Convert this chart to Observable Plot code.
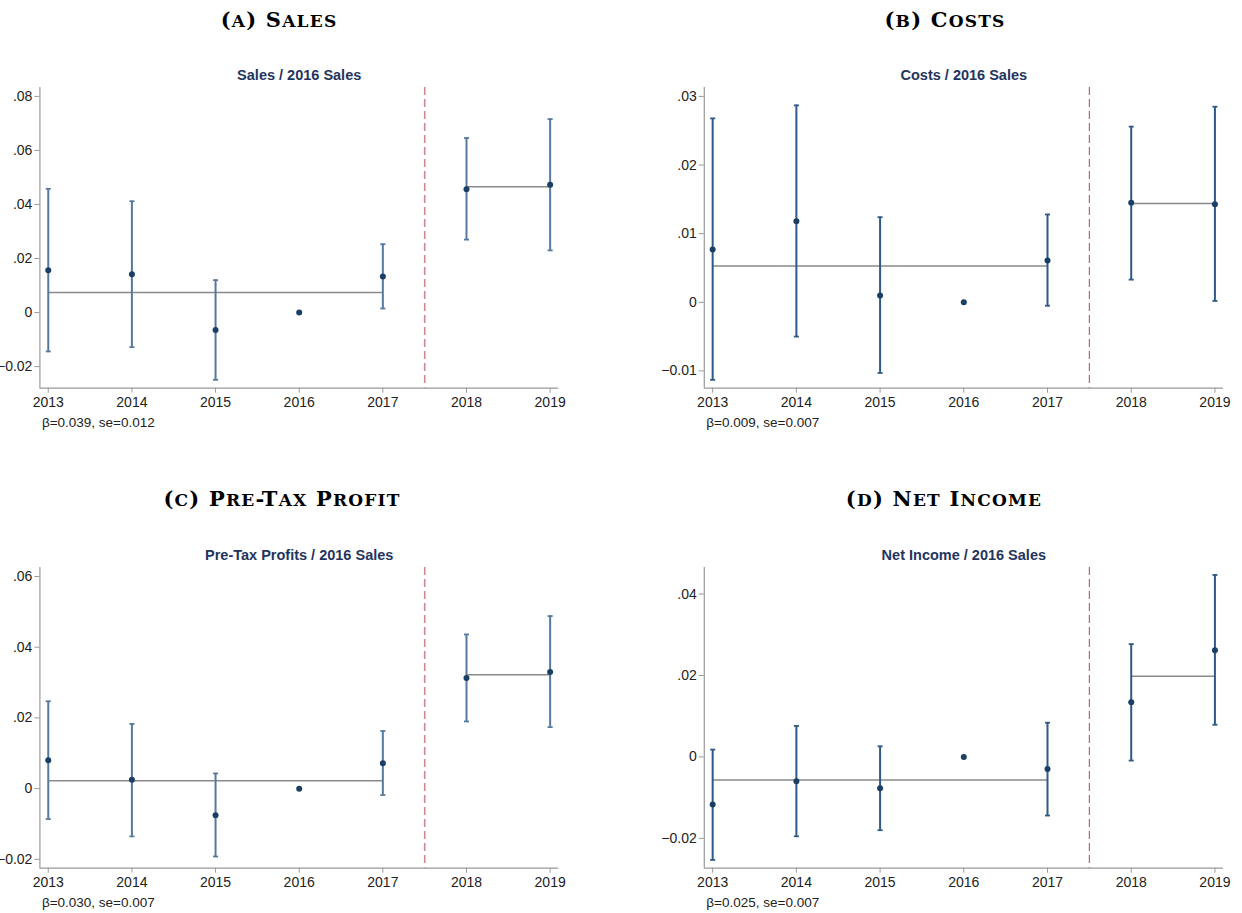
<!DOCTYPE html>
<html><head><meta charset="utf-8">
<script src="https://cdn.jsdelivr.net/npm/d3@7"></script>
<script src="https://cdn.jsdelivr.net/npm/@observablehq/plot@0.6"></script>
<style>
body{margin:0;background:#fff;}
#root{position:relative;width:1242px;height:913px;overflow:hidden;background:#fff;}
.ptitle{position:absolute;font-family:"DejaVu Serif","Liberation Serif",serif;font-weight:bold;font-size:21px;letter-spacing:1.2px;transform:translate(-50%,-50%);white-space:nowrap;color:#000;}
.ptitle .sc{font-size:17px;}
.panel{position:absolute;}
</style></head><body><div id="root"></div>
<script>
const years = [2013, 2014, 2015, 2016, 2017, 2018, 2019];
const preYears = [2013, 2017];
const postYears = [2018, 2019];
const eventYear = 2017.5;

// (A) Sales
const salesEst = [0.0157, 0.0142, -0.0065, 0, 0.0133, 0.0456, 0.0473];
const salesLo  = [-0.0144, -0.0128, -0.0249, null, 0.0015, 0.0270, 0.0230];
const salesHi  = [0.0458, 0.0412, 0.0120, null, 0.0253, 0.0646, 0.0716];
const salesMeans = [0.0074, 0.0466];
const salesTicks = [-0.02, 0, 0.02, 0.04, 0.06, 0.08];

// (B) Costs
const costsEst = [0.0077, 0.0118, 0.0010, 0, 0.0061, 0.0145, 0.0143];
const costsLo  = [-0.0113, -0.0050, -0.0103, null, -0.0005, 0.0033, 0.0002];
const costsHi  = [0.0268, 0.0287, 0.0124, null, 0.0128, 0.0256, 0.0285];
const costsMeans = [0.0053, 0.0144];
const costsTicks = [-0.01, 0, 0.01, 0.02, 0.03];

// (C) Pre-tax profit
const profitEst = [0.0080, 0.0025, -0.0075, 0, 0.0072, 0.0313, 0.0330];
const profitLo  = [-0.0086, -0.0135, -0.0192, null, -0.0018, 0.0190, 0.0174];
const profitHi  = [0.0247, 0.0183, 0.0043, null, 0.0163, 0.0436, 0.0488];
const profitMeans = [0.0022, 0.0322];
const profitTicks = [-0.02, 0, 0.02, 0.04, 0.06];

// (D) Net income
const netEst = [-0.0117, -0.0060, -0.0077, 0, -0.0030, 0.0134, 0.0262];
const netLo  = [-0.0253, -0.0195, -0.0180, null, -0.0144, -0.0009, 0.0079];
const netHi  = [0.0018, 0.0076, 0.0026, null, 0.0084, 0.0277, 0.0447];
const netMeans = [-0.0057, 0.0198];
const netTicks = [-0.02, 0, 0.02, 0.04];

const panelTitles = ["(a) Sales", "(b) Costs", "(c) Pre-Tax Profit", "(d) Net Income"];
const subTitles = ["Sales / 2016 Sales", "Costs / 2016 Sales", "Pre-Tax Profits / 2016 Sales", "Net Income / 2016 Sales"];
const notes = ["β=0.039, se=0.012", "β=0.009, se=0.007", "β=0.030, se=0.007", "β=0.025, se=0.007"];

const fmt = d => {
  if (d === 0) return "0";
  return d3.format(".2f")(d).replace(/^(-?)0\./, "$1.");
};

// small caps: capitals stay full-size, lowercase become smaller capitals
function smallCaps(el, s) {
  let buf = "", isLower = null;
  const flush = () => {
    if (!buf) return;
    if (isLower) {
      const sp = document.createElement("span");
      sp.className = "sc";
      sp.textContent = buf.toUpperCase();
      el.appendChild(sp);
    } else {
      el.appendChild(document.createTextNode(buf));
    }
    buf = "";
  };
  for (const ch of s) {
    const low = ch !== ch.toUpperCase();
    if (isLower !== null && low !== isLower) flush();
    isLower = low;
    buf += ch;
  }
  flush();
}

const panels = [
  {est: salesEst, lo: salesLo, hi: salesHi, means: salesMeans, ticks: salesTicks, yDomain: [-0.028, 0.0833],
   left: 0, top: 60, width: 620, mL: 39.4, mR: 62, titleX: 279, titleY: 19, bar: "#56799f", dash: "#c98a93", dashW: 1.6},
  {est: costsEst, lo: costsLo, hi: costsHi, means: costsMeans, ticks: costsTicks, yDomain: [-0.01252, 0.0313],
   left: 620, top: 60, width: 622, mL: 83.8, mR: 19.2, titleX: 945, titleY: 19, bar: "#2f5986", dash: "#c4505e", dashW: 1.1},
  {est: profitEst, lo: profitLo, hi: profitHi, means: profitMeans, ticks: profitTicks, yDomain: [-0.0225, 0.06254],
   left: 0, top: 540, width: 620, mL: 39.4, mR: 62, titleX: 282, titleY: 498, bar: "#56799f", dash: "#c98a93", dashW: 1.6},
  {est: netEst, lo: netLo, hi: netHi, means: netMeans, ticks: netTicks, yDomain: [-0.02734, 0.04653],
   left: 620, top: 540, width: 622, mL: 83.8, mR: 19.2, titleX: 944, titleY: 498, bar: "#2f5986", dash: "#c4505e", dashW: 1.1}
];

const root = document.getElementById("root");
const xDomain = [2012.9, 2019.1];
const capHalf = 0.03;

panels.forEach((p, i) => {
  const t = document.createElement("div");
  t.className = "ptitle";
  t.style.left = p.titleX + "px";
  t.style.top = p.titleY + "px";
  smallCaps(t, panelTitles[i]);
  root.appendChild(t);

  const rows = years.map((y, j) => ({year: y, est: p.est[j], lo: p.lo[j], hi: p.hi[j]}));
  const ci = rows.filter(d => d.lo != null);
  const meanSegs = [
    {x1: preYears[0], x2: preYears[1], y: p.means[0]},
    {x1: postYears[0], x2: postYears[1], y: p.means[1]}
  ];

  const chart = Plot.plot({
    width: p.width,
    height: 380,
    marginTop: 27,
    marginBottom: 52.3,
    marginLeft: p.mL,
    marginRight: p.mR,
    x: {domain: xDomain},
    y: {domain: p.yDomain},
    style: {fontFamily: '"Liberation Sans", Arial, sans-serif', fontSize: "14px", color: "#222", background: "transparent", overflow: "visible"},
    marks: [
      Plot.axisX({ticks: years, tickFormat: d => String(d), tickSize: 5, tickPadding: 4, stroke: "#9a9a9a", fill: "#222", label: null, fontSize: 14}),
      Plot.axisY({ticks: p.ticks, tickFormat: fmt, tickSize: 5, tickPadding: 2.5, stroke: "#9a9a9a", fill: "#222", label: null, fontSize: 14}),
      Plot.ruleX([xDomain[0]], {stroke: "#9a9a9a", strokeWidth: 1.2}),
      Plot.ruleY([p.yDomain[0]], {stroke: "#9a9a9a", strokeWidth: 1.2}),
      Plot.ruleX([eventYear], {stroke: p.dash, strokeWidth: p.dashW, strokeDasharray: "8,4"}),
      Plot.link(meanSegs, {x1: "x1", x2: "x2", y1: "y", y2: "y", stroke: "#8a8a8a", strokeWidth: 1.5}),
      Plot.ruleX(ci, {x: "year", y1: "lo", y2: "hi", stroke: p.bar, strokeWidth: 2}),
      Plot.link(ci, {x1: d => d.year - capHalf, x2: d => d.year + capHalf, y1: "lo", y2: "lo", stroke: p.bar, strokeWidth: 1.8}),
      Plot.link(ci, {x1: d => d.year - capHalf, x2: d => d.year + capHalf, y1: "hi", y2: "hi", stroke: p.bar, strokeWidth: 1.8}),
      Plot.dot(rows, {x: "year", y: "est", r: 3, fill: "#1a3f66", stroke: "none"}),
      Plot.text([subTitles[i]], {text: d => d, frameAnchor: "top", lineAnchor: "middle", dy: -12, fontWeight: "bold", fontSize: 14.5, fill: "#1f355e"}),
      Plot.text([notes[i]], {text: d => d, frameAnchor: "bottom-left", lineAnchor: "middle", dy: 34, dx: 2, textAnchor: "start", fontSize: 13.5, fill: "#222"})
    ]
  });
  const div = document.createElement("div");
  div.className = "panel";
  div.style.left = p.left + "px";
  div.style.top = p.top + "px";
  div.style.width = p.width + "px";
  div.appendChild(chart);
  root.appendChild(div);
});
</script>
</body></html>
